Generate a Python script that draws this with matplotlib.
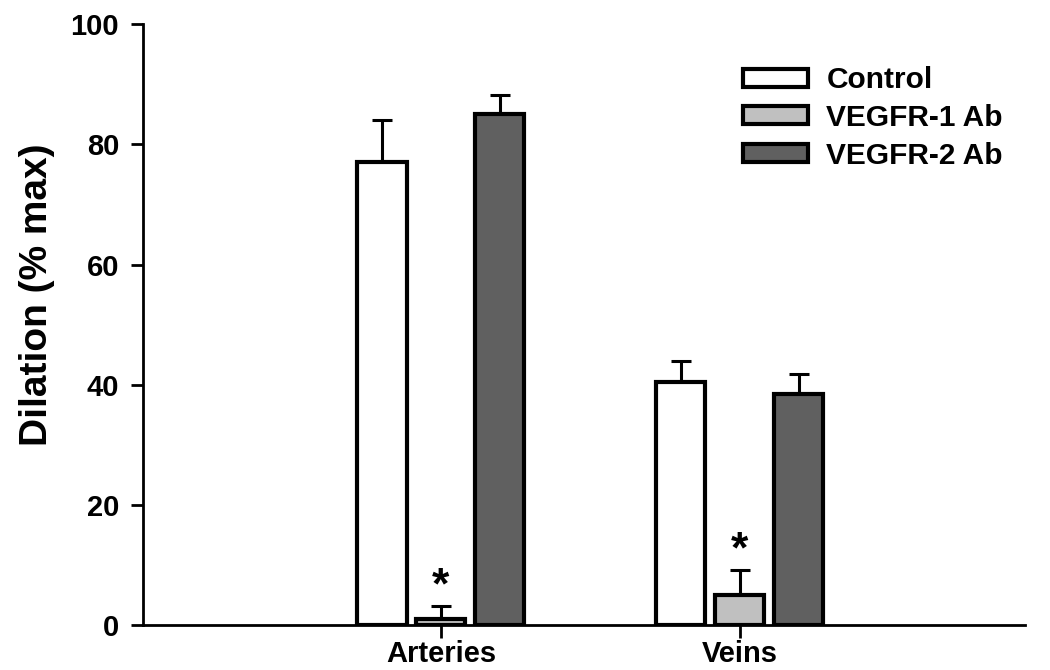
import matplotlib.pyplot as plt
import numpy as np

plt.rcParams['font.family'] = ['Liberation Sans', 'DejaVu Sans']
plt.rcParams['font.weight'] = 'bold'

# Data
groups = ["Arteries", "Veins"]
series = ["Control", "VEGFR-1 Ab", "VEGFR-2 Ab"]
means = [[77, 40.5], [1, 5], [85, 38.5]]
errs = [[7, 3.5], [2.2, 4.2], [3.2, 3.3]]
stars = [False, True, False]
colors = ["white", "#c0c0c0", "#606060"]

fig = plt.figure(figsize=(10.5, 6.7), dpi=100)
ax = fig.add_axes([0.136, 0.067, 0.84, 0.897])

x = np.arange(len(groups))
width = 0.164
step = 0.197

for i, name in enumerate(series):
    pos = x + (i - 1) * step
    ax.bar(pos, means[i], width, color=colors[i], edgecolor='black',
           linewidth=3, label=name, zorder=2)
    ax.errorbar(pos, means[i], yerr=[np.zeros(len(groups)), errs[i]],
                fmt='none', ecolor='black', elinewidth=2.2, capsize=7,
                capthick=2.2, zorder=1)
    if stars[i]:
        for p, m, e in zip(pos, means[i], errs[i]):
            ax.text(p, m + e - 0.3, "*", ha='center', va='bottom',
                    fontsize=32, fontweight='bold')

ax.set_xlim(-0.997, 1.953)
ax.set_ylim(0, 100)
ax.set_yticks([0, 20, 40, 60, 80, 100])
ax.set_xticks(x)
ax.set_xticklabels(groups)
ax.tick_params(axis='both', labelsize=21, width=2, length=9, direction='out')
ax.tick_params(axis='x', pad=2)
ax.tick_params(axis='y', pad=8)
ax.set_ylabel("Dilation (% max)", fontsize=28, fontweight='bold')
ax.yaxis.set_label_coords(-0.1, 0.55)

for s in ['top', 'right']:
    ax.spines[s].set_visible(False)
for s in ['left', 'bottom']:
    ax.spines[s].set_linewidth(2)

leg = ax.legend(loc='upper right', bbox_to_anchor=(0.975, 0.93), frameon=False,
                fontsize=21.5, handlelength=2.2, handleheight=0.55,
                labelspacing=0.33, handletextpad=0.6, borderpad=0,
                borderaxespad=0)
for h in leg.legend_handles:
    h.set_linewidth(3)

fig.savefig("out.png", dpi=100)
